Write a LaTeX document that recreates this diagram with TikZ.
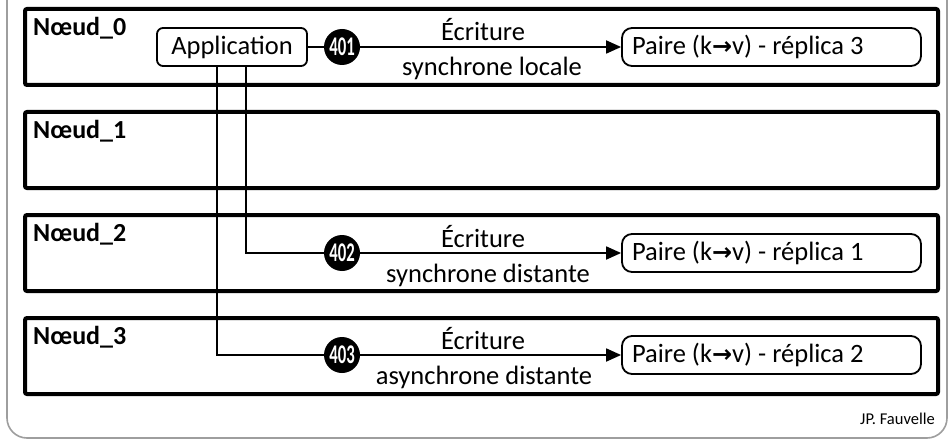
\documentclass[tikz,border=0pt]{standalone}
\usepackage{fontspec}
\setmainfont{Carlito}
\newfontfamily\arrowfont{DejaVu Sans}
\usetikzlibrary{arrows.meta}
\newcommand{\kv}{(k{\arrowfont\bfseries\fontsize{24}{28}\selectfont →}v)}
\tikzset{
  every node/.style={font=\fontsize{26.5}{30}\selectfont},
  nodebox/.style={draw, line width=4pt, rounded corners=2pt, minimum width=913pt, minimum height=76pt, inner sep=0pt},
  nodelabel/.style={anchor=north west, inner sep=0pt, font=\fontsize{26}{30}\selectfont\bfseries},
  appbox/.style={draw, line width=1.8pt, rounded corners=6pt, minimum width=150pt, minimum height=38pt, inner sep=0pt},
  pairbox/.style={draw, line width=1.8pt, rounded corners=10pt, minimum width=299pt, minimum height=38pt, inner xsep=10pt, inner ysep=0pt},
  num/.style={circle, fill=black, minimum size=36pt, inner sep=0pt, text=white, font=\fontsize{27}{28}\selectfont\bfseries},
  conn/.style={line width=1.8pt},
  arr/.style={line width=1.8pt, -{Triangle[length=15pt,width=13pt]}},
  lab/.style={inner sep=0pt}
}
\begin{document}
\begin{tikzpicture}[x=1pt, y=-1pt]
\useasboundingbox (0,0) rectangle (950,441);
\fill[white] (0,0) rectangle (950,441);
\begin{scope}
\clip (0,0) rectangle (950,441);
\draw[color=black!38, line width=1.6pt, rounded corners=20pt] (7,-40) rectangle (947,438);
\end{scope}

% node boxes
\node[nodebox] (n0) at (481.5,47) {};
\node[nodebox] (n1) at (481.5,150) {};
\node[nodebox] (n2) at (481.5,253) {};
\node[nodebox] (n3) at (481.5,356) {};
\node[nodelabel] (l0) at (33,17) {Nœud\_0};
\node[nodelabel] (l1) at (33,120) {Nœud\_1};
\node[nodelabel] (l2) at (33,223) {Nœud\_2};
\node[nodelabel] (l3) at (33,326) {Nœud\_3};

% application
\node[appbox] (app) at (232,47) {Application};
\coordinate (s1) at (217,66);
\coordinate (s2) at (246,66);

% targets
\node[pairbox] (p3) at (771.5,47) {\makebox[279pt][l]{Paire \kv{} - réplica 3}};
\node[pairbox] (p1) at (771.5,253) {\makebox[279pt][l]{Paire \kv{} - réplica 1}};
\node[pairbox] (p2) at (771.5,355) {\makebox[279pt][l]{Paire \kv{} - réplica 2}};

% numbered circles
\node[num] (c401) at (342,47) {\scalebox{0.62}[1]{401}};
\node[num] (c402) at (342,253) {\scalebox{0.62}[1]{402}};
\node[num] (c403) at (342,355) {\scalebox{0.62}[1]{403}};

% connectors
\draw[conn] (app.east) -- (c401.west);
\draw[arr] (c401.east) -- (p3.west);
\draw[conn] (s2) |- (c402.west);
\draw[arr] (c402.east) -- (p1.west);
\draw[conn] (s1) |- (c403.west);
\draw[arr] (c403.east) -- (p2.west);

% labels
\node[lab, anchor=base] (t1a) at (483,41) {Écriture};
\node[lab, anchor=base] (t1b) at (492,76) {synchrone locale};
\node[lab, anchor=base] (t2a) at (483,247) {Écriture};
\node[lab, anchor=base] (t2b) at (488,282) {synchrone distante};
\node[lab, anchor=base] (t3a) at (483,349) {Écriture};
\node[lab, anchor=base] (t3b) at (484,384) {asynchrone distante};

\node[anchor=base east, inner sep=0pt, font=\fontsize{16.5}{18}\selectfont] (auth) at (935,424) {JP. Fauvelle};
\end{tikzpicture}
\end{document}
